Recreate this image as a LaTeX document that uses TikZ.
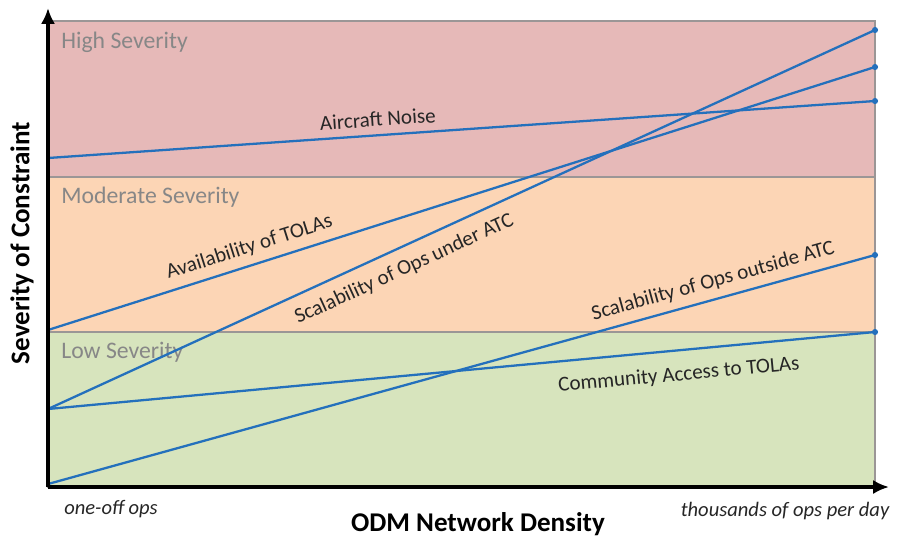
\documentclass[tikz,border=0pt]{standalone}
\usepackage{fontspec}
\setmainfont{Carlito}
\usetikzlibrary{arrows.meta}

\definecolor{highband}{RGB}{230,185,184}
\definecolor{modband}{RGB}{252,213,181}
\definecolor{lowband}{RGB}{215,228,189}
\definecolor{bandedge}{RGB}{155,150,150}
\definecolor{curveblue}{RGB}{36,112,188}
\definecolor{bandtext}{RGB}{135,135,135}

\begin{document}
\begin{tikzpicture}[
  x={(0.02cm,0)}, y={(0,-0.02cm)},
  band/.style={draw=bandedge, line width=0.6pt},
  bandlabel/.style={font=\fontsize{13.5}{15}\selectfont, text=bandtext, anchor=west, inner sep=0pt},
  curve/.style={curveblue, line width=1.3pt},
  curvelabel/.style={font=\fontsize{12}{13}\selectfont, text=black!85, sloped},
  enddot/.style={circle, fill=curveblue, minimum size=3.5pt, inner sep=0pt},
  axis/.style={black, line width=1.8pt, -{Latex[length=9pt, width=8pt]}},
  axislabel/.style={font=\fontsize{15.4}{17}\selectfont\bfseries},
  ticklabel/.style={font=\fontsize{11.7}{13}\selectfont\itshape, text=black!85},
]
\useasboundingbox (0,0) rectangle (902,539);

% ================================================================
% Severity bands
% ================================================================
\fill[highband] (48,21) rectangle (875,177);
\fill[modband]  (48,177) rectangle (875,332);
\fill[lowband]  (48,332) rectangle (875,487);
\draw[band] (48,21) rectangle (875,487);
\draw[band] (48,177) -- (875,177);
\draw[band] (48,332) -- (875,332);

\node[bandlabel] (high) at (61,42)  {High Severity};
\node[bandlabel] (mod)  at (61,197) {Moderate Severity};
\node[bandlabel] (low)  at (61,352) {Low Severity};

% ================================================================
% Constraint curves (left end on the axis, right end at the edge)
% ================================================================
\coordinate (noiseL) at (48,158);  \coordinate (noiseR) at (875,101);
\coordinate (availL) at (48,330);  \coordinate (availR) at (875,67);
\coordinate (underL) at (48,409);  \coordinate (underR) at (875,30);
\coordinate (outL)   at (48,484);  \coordinate (outR)   at (875,255);
\coordinate (commL)  at (48,409);  \coordinate (commR)  at (875,332);

\draw[curve] (noiseL) -- node[curvelabel, above=1pt, pos=0.40] {Aircraft Noise} (noiseR);
\draw[curve] (availL) -- node[curvelabel, above=1pt, pos=0.25] {Availability of TOLAs} (availR);
\draw[curve] (underL) -- node[curvelabel, below=3pt, pos=0.42] {Scalability of Ops under ATC} (underR);
\draw[curve] (outL)   -- node[curvelabel, above=1pt, pos=0.81] {Scalability of Ops outside ATC} (outR);
\draw[curve] (commL)  -- node[curvelabel, below=5pt, pos=0.76] {Community Access to TOLAs} (commR);

\foreach \pos in {noiseR, availR, underR, outR, commR}
  \node[enddot] at (\pos) {};

% ================================================================
% Axes
% ================================================================
\coordinate (origin) at (48,487);
\coordinate (ytip)   at (48,8);
\coordinate (xtip)   at (889,487);
\draw[axis] (origin) -- (ytip);
\draw[axis] (origin) -- (xtip);

\node[axislabel, rotate=90] (ylab) at (22,243) {Severity of Constraint};
\node[axislabel] (xlab) at (478,524) {ODM Network Density};
\node[ticklabel] (lowend)  at (111,509) {one-off ops};
\node[ticklabel] (highend) at (785,511) {thousands of ops per day};

\end{tikzpicture}
\end{document}
